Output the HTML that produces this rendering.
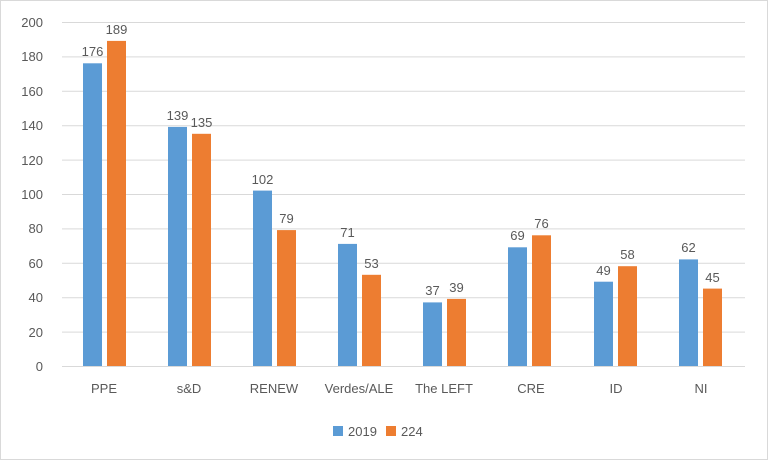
<!DOCTYPE html>
<html><head><style>
body{margin:0;background:#fff}
svg text{font-family:"Liberation Sans",sans-serif;fill:#595959}
</style></head><body>
<svg width="768" height="460" viewBox="0 0 768 460" xmlns="http://www.w3.org/2000/svg">
<rect x="0.5" y="0.5" width="767" height="459" fill="#fff" stroke="#d9d9d9"/>
<g stroke="#d9d9d9" stroke-width="1">
<line x1="62" x2="745" y1="22.5" y2="22.5"/><line x1="62" x2="745" y1="56.9" y2="56.9"/>
<line x1="62" x2="745" y1="91.3" y2="91.3"/><line x1="62" x2="745" y1="125.7" y2="125.7"/>
<line x1="62" x2="745" y1="160.1" y2="160.1"/><line x1="62" x2="745" y1="194.5" y2="194.5"/>
<line x1="62" x2="745" y1="228.9" y2="228.9"/><line x1="62" x2="745" y1="263.3" y2="263.3"/>
<line x1="62" x2="745" y1="297.7" y2="297.7"/><line x1="62" x2="745" y1="332.1" y2="332.1"/>
<line x1="62" x2="745" y1="366.5" y2="366.5"/>
</g>
<g font-size="13" text-anchor="end">
<text x="43" y="27">200</text><text x="43" y="61">180</text><text x="43" y="96">160</text>
<text x="43" y="130">140</text><text x="43" y="165">120</text><text x="43" y="199">100</text>
<text x="43" y="233">80</text><text x="43" y="268">60</text><text x="43" y="302">40</text>
<text x="43" y="337">20</text><text x="43" y="371">0</text>
</g>
<g fill="#5b9bd5">
<rect x="83" y="63.3" width="19" height="302.7"/>
<rect x="168" y="126.9" width="19" height="239.1"/>
<rect x="253" y="190.6" width="19" height="175.4"/>
<rect x="338" y="243.9" width="19" height="122.1"/>
<rect x="423" y="302.4" width="19" height="63.6"/>
<rect x="508" y="247.3" width="19" height="118.7"/>
<rect x="594" y="281.7" width="19" height="84.3"/>
<rect x="679" y="259.4" width="19" height="106.6"/>
</g>
<g fill="#ed7d31">
<rect x="107" y="40.9" width="19" height="325.1"/>
<rect x="192" y="133.8" width="19" height="232.2"/>
<rect x="277" y="230.1" width="19" height="135.9"/>
<rect x="362" y="274.8" width="19" height="91.2"/>
<rect x="447" y="298.9" width="19" height="67.1"/>
<rect x="532" y="235.3" width="19" height="130.7"/>
<rect x="618" y="266.2" width="19" height="99.8"/>
<rect x="703" y="288.6" width="19" height="77.4"/>
</g>
<g font-size="13" text-anchor="middle">
<text x="92.5" y="56">176</text><text x="116.5" y="34">189</text>
<text x="177.5" y="120">139</text><text x="201.5" y="127">135</text>
<text x="262.5" y="184">102</text><text x="286.5" y="223">79</text>
<text x="347.5" y="237">71</text><text x="371.5" y="268">53</text>
<text x="432.5" y="295">37</text><text x="456.5" y="292">39</text>
<text x="517.5" y="240">69</text><text x="541.5" y="228">76</text>
<text x="603.5" y="275">49</text><text x="627.5" y="259">58</text>
<text x="688.5" y="252">62</text><text x="712.5" y="282">45</text>
</g>
<g font-size="13" text-anchor="middle">
<text x="104" y="393">PPE</text><text x="189" y="393">s&amp;D</text><text x="274" y="393">RENEW</text>
<text x="359" y="393">Verdes/ALE</text><text x="444" y="393">The LEFT</text><text x="531" y="393">CRE</text>
<text x="616" y="393">ID</text><text x="701" y="393">NI</text>
</g>
<rect x="333" y="426" width="10" height="10" fill="#5b9bd5"/>
<text x="348" y="436" font-size="13">2019</text>
<rect x="386" y="426" width="10" height="10" fill="#ed7d31"/>
<text x="401" y="436" font-size="13">224</text>
</svg>
</body></html>
